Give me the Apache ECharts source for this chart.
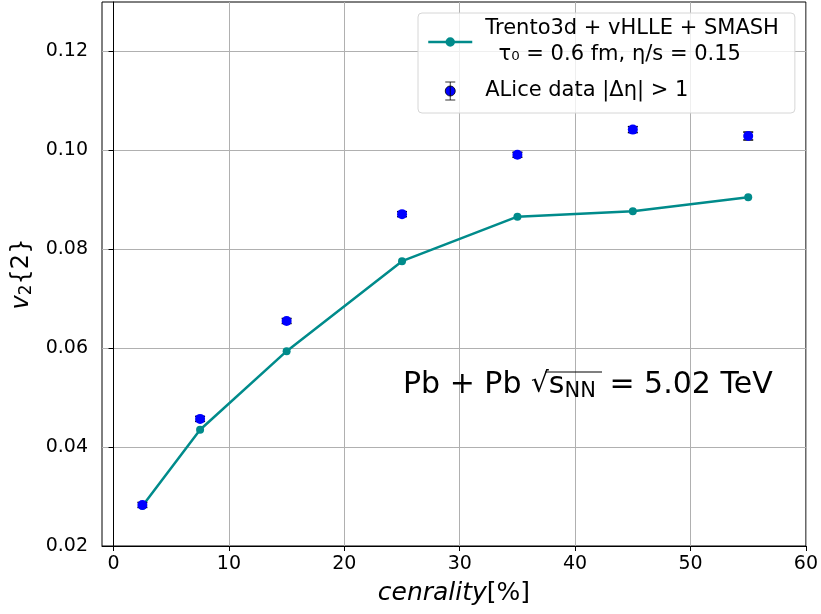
<!DOCTYPE html>
<html><head><meta charset="utf-8">
<script src="https://cdn.jsdelivr.net/npm/echarts@6/dist/echarts.min.js"></script>
<style>html,body{margin:0;padding:0;background:#fff}#c{width:821px;height:614px}</style>
</head><body><div id="c"></div>
<script>
const centrality = [2.5, 7.5, 15, 25, 35, 45, 55];
const modelV2 = [0.0281, 0.0435, 0.0594, 0.0776, 0.0866, 0.0877, 0.0905];
const aliceV2 = [0.0283, 0.0457, 0.0655, 0.0871, 0.0991, 0.1042, 0.1029];
const aliceErr = [0.0005, 0.0005, 0.0005, 0.0005, 0.0005, 0.0006, 0.0008];
const xTicks = [0, 10, 20, 30, 40, 50, 60];
const yTicks = [0.02, 0.04, 0.06, 0.08, 0.10, 0.12];
const yTickLabels = ['0.02', '0.04', '0.06', '0.08', '0.10', '0.12'];
const modelName = 'Trento3d + vHLLE + SMASH\n  τ₀ = 0.6 fm, η/s = 0.15';
const aliceName = 'ALice data |Δη| > 1';

const FONT = 'DejaVu Sans';
const chart = echarts.init(document.getElementById('c'), null, {renderer: 'canvas'});

const modelData = centrality.map((c, i) => [c, modelV2[i]]);
const aliceData = centrality.map((c, i) => [c, aliceV2[i]]);
const errData = centrality.map((c, i) => [c, aliceV2[i], aliceErr[i]]);

const option = {
  animation: false,
  backgroundColor: '#fff',
  grid: {left: 102, right: 15, top: 2, bottom: 68, show: true, borderColor: '#000', borderWidth: 1, backgroundColor: 'transparent'},
  xAxis: {
    type: 'value', min: -1, max: 60,
    name: '{i|cenrality}[%]', nameLocation: 'middle', nameGap: 35,
    nameTextStyle: {fontFamily: FONT, fontSize: 25, color: '#000', rich: {i: {fontFamily: FONT, fontSize: 25, fontStyle: 'italic', color: '#000'}}},
    axisLine: {show: true, lineStyle: {color: '#000', width: 1}},
    axisTick: {show: true, inside: false, length: 5, lineStyle: {color: '#000'}, customValues: xTicks},
    axisLabel: {fontFamily: FONT, fontSize: 19, color: '#000', margin: 9, customValues: xTicks},
    splitLine: {show: true, lineStyle: {color: '#b0b0b0', width: 1}}
  },
  yAxis: {
    type: 'value', min: 0.02, max: 0.13,
    name: '{i|v}{s|2}{2}', nameLocation: 'middle', nameGap: 64, nameRotate: 90,
    nameTextStyle: {fontFamily: FONT, fontSize: 24, color: '#000', rich: {
      i: {fontFamily: FONT, fontSize: 24, fontStyle: 'italic', color: '#000'},
      s: {fontFamily: FONT, fontSize: 17, color: '#000', padding: [10, 0, 0, 0]}
    }},
    axisLine: {show: true, lineStyle: {color: '#000', width: 1}},
    axisTick: {show: true, inside: false, length: 5, lineStyle: {color: '#000'}, customValues: yTicks},
    axisLabel: {fontFamily: FONT, fontSize: 19, color: '#000', margin: 14, customValues: yTicks,
      formatter: v => { const k = yTicks.findIndex(t => Math.abs(t - v) < 1e-9); return k >= 0 ? yTickLabels[k] : ''; }},
    splitLine: {show: true, lineStyle: {color: '#b0b0b0', width: 1}}
  },
  legend: {
    orient: 'vertical', left: 418, top: 13,
    padding: [3, 16, 9, 9], itemGap: 10, itemWidth: 44, itemHeight: 18,
    backgroundColor: 'rgba(255,255,255,0.8)', borderColor: '#d6d6d6', borderWidth: 1, borderRadius: 4,
    textStyle: {fontFamily: FONT, fontSize: 21, color: '#000', lineHeight: 26, padding: [0, 0, 0, 8]},
    data: [
      {name: modelName, icon: 'path://M0,4.5 L44,4.5 M25.5,4.5 A3.5,3.5 0 1 1 18.5,4.5 A3.5,3.5 0 1 1 25.5,4.5 Z',
       itemStyle: {color: '#008b8b', borderColor: '#008b8b', borderWidth: 2.5}},
      {name: aliceName, icon: 'path://M4,0 L14,0 M9,0 L9,18 M4,18 L14,18 M14,9 A5,5 0 1 1 4,9 A5,5 0 1 1 14,9 Z',
       itemStyle: {color: '#0000ff', borderColor: '#000', borderWidth: 0.8}}
    ]
  },
  series: [
    {
      name: modelName, type: 'line', data: modelData, z: 3,
      symbol: 'circle', symbolSize: 8,
      lineStyle: {color: '#008b8b', width: 2.5},
      itemStyle: {color: '#008b8b'}
    },
    {
      name: aliceName, type: 'custom', data: errData, z: 4,
      renderItem: (params, api) => {
        const x = api.value(0), y = api.value(1), e = api.value(2);
        const t = api.coord([x, y + e]), b = api.coord([x, y - e]);
        const cw = 5, st = {stroke: '#000', lineWidth: 1.5};
        return {type: 'group', children: [
          {type: 'line', shape: {x1: t[0], y1: t[1], x2: b[0], y2: b[1]}, style: st},
          {type: 'line', shape: {x1: t[0] - cw, y1: t[1], x2: t[0] + cw, y2: t[1]}, style: st},
          {type: 'line', shape: {x1: b[0] - cw, y1: b[1], x2: b[0] + cw, y2: b[1]}, style: st}
        ]};
      },
      encode: {x: 0, y: 1}
    },
    {
      name: aliceName, type: 'scatter', data: aliceData, z: 5,
      symbol: 'circle', symbolSize: 10,
      itemStyle: {color: '#0000ff', opacity: 1}
    }
  ],
  graphic: [
    {
      type: 'text', left: 403, top: 370, z: 10,
      style: {
        text: '{t|Pb + Pb }{r|√}{s|s}{n|NN}{t| = 5.02 TeV}',
        fontFamily: FONT, fontSize: 30, fill: '#000',
        rich: {
          t: {fontFamily: FONT, fontSize: 30, fill: '#000'},
          r: {fontFamily: FONT, fontSize: 28, fill: '#000'},
          s: {fontFamily: FONT, fontSize: 30, fill: '#000'},
          n: {fontFamily: FONT, fontSize: 21, fill: '#000', padding: [14, 4, 0, 0]}
        }
      }
    },
    {type: 'line', z: 10, shape: {x1: 545, y1: 372, x2: 602, y2: 372}, style: {stroke: '#000', lineWidth: 1.2}}
  ]
};
chart.setOption(option);
</script>
</body></html>
